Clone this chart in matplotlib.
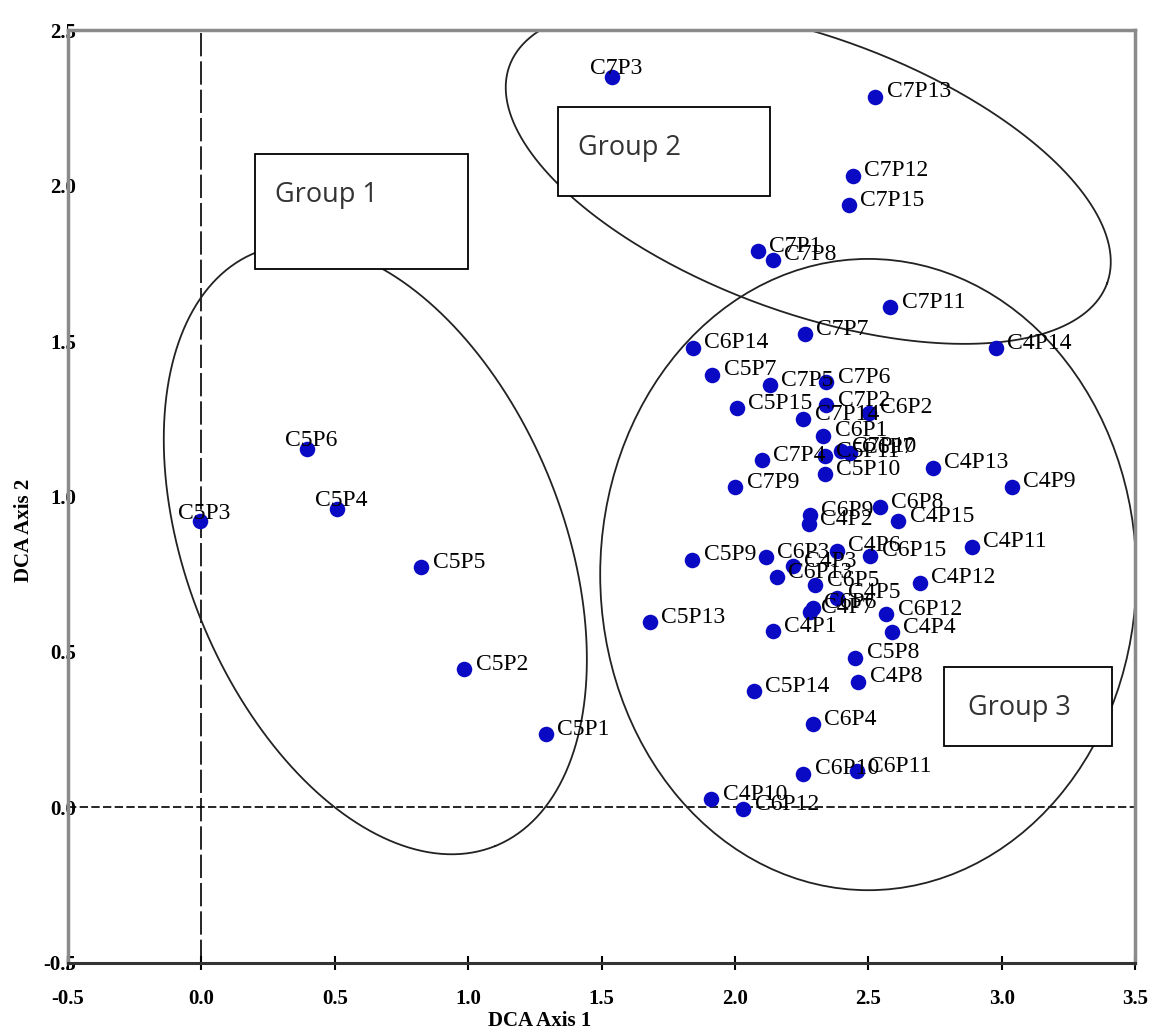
import numpy as np
import matplotlib
matplotlib.use("Agg")
import matplotlib.pyplot as plt
from matplotlib.patches import Rectangle, Ellipse

# DCA sample scores
names = [
    "C7P3", "C7P13", "C7P12", "C7P15", "C7P1", "C7P8", "C7P11", "C7P7",
    "C6P14", "C4P14", "C5P7", "C7P5", "C7P6", "C5P15", "C7P2", "C6P2",
    "C7P14", "C6P1", "C7P10", "C6P7", "C7P4", "C5P11", "C5P10", "C7P9",
    "C4P13", "C4P9", "C6P8", "C4P15", "C6P9", "C4P2", "C4P11", "C5P9",
    "C6P3", "C4P6", "C6P15", "C4P3", "C6P13", "C6P5", "C4P12", "C4P5",
    "C6P6", "C4P7", "C6P12", "C4P4", "C4P1", "C5P13", "C5P8", "C4P8",
    "C5P14", "C6P4", "C6P10", "C6P11", "C4P10", "C6P12",
    "C5P3", "C5P6", "C5P4", "C5P5", "C5P2", "C5P1",
]
axis1 = [
    1.541, 2.527, 2.441, 2.429, 2.088, 2.144, 2.583, 2.264,
    1.844, 2.977, 1.916, 2.133, 2.343, 2.009, 2.343, 2.504,
    2.257, 2.332, 2.396, 2.433, 2.103, 2.339, 2.339, 2.002,
    2.744, 3.037, 2.545, 2.613, 2.283, 2.276, 2.887, 1.841,
    2.118, 2.384, 2.508, 2.219, 2.159, 2.302, 2.695, 2.384,
    2.291, 2.283, 2.568, 2.590, 2.144, 1.683, 2.452, 2.463,
    2.073, 2.291, 2.257, 2.459, 1.912, 2.032,
    -0.004, 0.397, 0.510, 0.825, 0.986, 1.293,
]
axis2 = [
    2.350, 2.286, 2.032, 1.936, 1.788, 1.762, 1.608, 1.521,
    1.479, 1.476, 1.392, 1.357, 1.367, 1.283, 1.293, 1.270,
    1.248, 1.196, 1.145, 1.141, 1.116, 1.129, 1.071, 1.029,
    1.093, 1.032, 0.965, 0.920, 0.939, 0.910, 0.839, 0.797,
    0.804, 0.826, 0.810, 0.775, 0.740, 0.714, 0.723, 0.675,
    0.643, 0.627, 0.621, 0.563, 0.566, 0.595, 0.482, 0.405,
    0.373, 0.267, 0.109, 0.116, 0.026, -0.006,
    0.920, 1.154, 0.961, 0.772, 0.444, 0.235,
]
# labels drawn on top of their point instead of to the right
centered = {"C7P3", "C5P3", "C5P6", "C5P4"}

xticks = [-0.5, 0.0, 0.5, 1.0, 1.5, 2.0, 2.5, 3.0, 3.5]
yticks = [-0.5, 0.0, 0.5, 1.0, 1.5, 2.0, 2.5]

serif = ["Liberation Serif", "DejaVu Serif"]
PX_X = 266.75  # pixels per x unit
PX_Y = 311.0   # pixels per y unit


def tilted_ellipse(ax, cx, cy, a, b, ang):
    # a, b in pixels, ang in degrees (clockwise on screen)
    t = np.linspace(0, 2 * np.pi, 400)
    phi = np.deg2rad(ang)
    dx = a * np.cos(t) * np.cos(phi) - b * np.sin(t) * np.sin(phi)
    dy = a * np.cos(t) * np.sin(phi) + b * np.sin(t) * np.cos(phi)
    ax.plot(cx + dx / PX_X, cy - dy / PX_Y, color="#222222", lw=1.3, zorder=2)


fig = plt.figure(figsize=(11.55, 10.36), dpi=100)
ax = fig.add_axes([0.0589, 0.0705, 0.9238, 0.9005])
ax.set_xlim(-0.5, 3.5)
ax.set_ylim(-0.5, 2.5)

ax.axvline(0, color="black", lw=1.2, linestyle=(0, (14, 3)), zorder=1)
ax.axhline(0, color="black", lw=1.2, linestyle=(0, (5, 2)), zorder=1)

# group outlines
tilted_ellipse(ax, 0.652, 0.830, 320, 188, 68)
tilted_ellipse(ax, 2.275, 2.035, 318, 138, 20)
ax.add_patch(Ellipse((2.500, 0.749), 2.01, 2.03, fill=False,
                     edgecolor="#222222", lw=1.3, zorder=2))

ax.scatter(axis1, axis2, s=125, color="#0a0ac4", zorder=4, linewidths=0)

for n, x, y in zip(names, axis1, axis2):
    if n in centered:
        ax.annotate(n, (x, y), xytext=(3, 6), textcoords="offset points",
                    ha="center", va="center", fontsize=17, family=serif, zorder=5)
    else:
        ax.annotate(n, (x, y), xytext=(8, 3.5), textcoords="offset points",
                    ha="left", va="center", fontsize=17, family=serif, zorder=5)

# group boxes
boxes = [((0.202, 1.73), 0.799, 0.37, "Group 1", (0.277, 1.97)),
         ((1.335, 1.965), 0.798, 0.289, "Group 2", (1.413, 2.12)),
         ((2.785, 0.199), 0.630, 0.254, "Group 3", (2.872, 0.32))]
for (x0, y0), w, h, txt, (tx, ty) in boxes:
    ax.add_patch(Rectangle((x0, y0), w, h, facecolor="white",
                           edgecolor="black", lw=1.3, zorder=6))
    ax.text(tx, ty, txt, fontsize=19.5, family=["Open Sans", "DejaVu Sans"],
            color="#333333", va="center", ha="left", zorder=7)

ax.set_xticks(xticks)
ax.set_yticks(yticks)
ax.set_xticklabels([f"{v:.1f}" for v in xticks], fontsize=15,
                   fontweight="bold", family=serif)
ax.set_yticklabels([f"{v:.1f}" for v in yticks], fontsize=15,
                   fontweight="bold", family=serif)
ax.tick_params(axis="x", direction="inout", length=10, width=1.5, pad=14)
ax.tick_params(axis="y", length=0, pad=-6)

for s in ["top", "left", "right"]:
    ax.spines[s].set_color("#8a8a8a")
    ax.spines[s].set_linewidth(2.5)
ax.spines["bottom"].set_color("#333333")
ax.spines["bottom"].set_linewidth(2.2)

ax.set_xlabel("DCA Axis 1", fontsize=15, fontweight="bold", family=serif)
ax.set_ylabel("DCA Axis 2", fontsize=15, fontweight="bold", family=serif)
ax.xaxis.set_label_coords(0.442, -0.052)
ax.yaxis.set_label_coords(-0.032, 0.464)

fig.savefig("out.png", dpi=100)
